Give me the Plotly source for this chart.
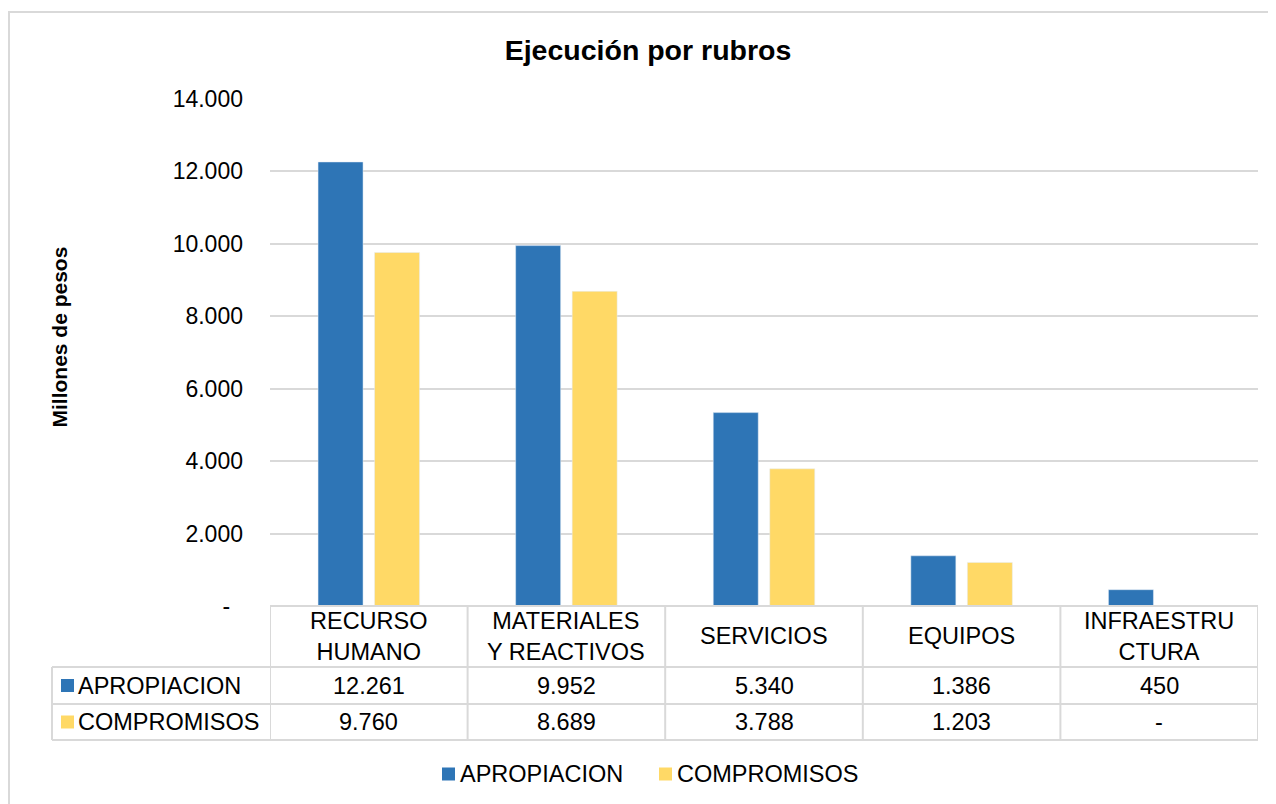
import plotly.graph_objects as go

# datos del grafico
rubros = ["RECURSO<br>HUMANO", "MATERIALES<br>Y REACTIVOS", "SERVICIOS", "EQUIPOS", "INFRAESTRU<br>CTURA"]
series = ["APROPIACION", "COMPROMISOS"]
apropiacion = [12261, 9952, 5340, 1386, 450]
compromisos = [9760, 8689, 3788, 1203, 0]
y_ticks = [0, 2000, 4000, 6000, 8000, 10000, 12000, 14000]

AZUL = "#2E75B6"
AMARILLO = "#FFD966"
GRIS = "#D9D9D9"
FONT = "Liberation Sans, Arial, sans-serif"
FS = 23.5

# la pagina deja 8px de margen en el body: se compensa aqui
OFF = 8
W, H = 1276 - OFF, 804 - OFF
L, R, T, B = 270, 1258, 99, 606  # area del grafico en pixeles de pagina


def px_x(px):
    return (px - L) / (R - L)


def px_y(py):
    return (B - py) / (B - T)


def fmt(v):
    """formato con punto como separador de miles, cero como guion"""
    if v == 0:
        return "-"
    return f"{v:,}".replace(",", ".")


x_idx = list(range(len(rubros)))

fig = go.Figure()
fig.add_trace(go.Bar(x=x_idx, y=apropiacion, name=series[0], marker_color=AZUL))
fig.add_trace(go.Bar(x=x_idx, y=compromisos, name=series[1], marker_color=AMARILLO))

shapes = []
annotations = []
texto = dict(size=FS, color="black")

# borde exterior
shapes.append(dict(type="rect", xref="paper", yref="paper",
                   x0=px_x(9), x1=px_x(1290), y0=px_y(12), y1=px_y(820),
                   line=dict(color=GRIS, width=2), layer="below"))

# tabla de datos
row_tops = [606, 667, 704, 740]
for i, yy in enumerate(row_tops):
    x0 = px_x(L) if i == 0 else px_x(52)
    shapes.append(dict(type="line", xref="paper", yref="paper",
                       x0=x0, x1=1, y0=px_y(yy), y1=px_y(yy),
                       line=dict(color=GRIS, width=2)))
for k in range(len(rubros) + 1):
    shapes.append(dict(type="line", xref="x", yref="paper",
                       x0=k - 0.5, x1=k - 0.5, y0=px_y(606), y1=px_y(740),
                       line=dict(color=GRIS, width=2)))
shapes.append(dict(type="line", xref="paper", yref="paper",
                   x0=px_x(52), x1=px_x(52), y0=px_y(667), y1=px_y(740),
                   line=dict(color=GRIS, width=2)))

# encabezados de categoria
for i, r in enumerate(rubros):
    annotations.append(dict(x=i, y=px_y(636), xref="x", yref="paper", text=r,
                            xanchor="center", yanchor="middle", showarrow=False,
                            font=texto))

# filas de la tabla
rows = [(series[0], apropiacion, AZUL, 685.5), (series[1], compromisos, AMARILLO, 722)]
for name, vals, color, yc in rows:
    shapes.append(dict(type="rect", xref="paper", yref="paper",
                       x0=px_x(61), x1=px_x(74), y0=px_y(yc - 6.5), y1=px_y(yc + 6.5),
                       fillcolor=color, line=dict(width=0)))
    annotations.append(dict(x=px_x(76), y=px_y(yc), xref="paper", yref="paper",
                            text=name, xanchor="left", yanchor="middle", showarrow=False,
                            font=texto))
    for i, v in enumerate(vals):
        annotations.append(dict(x=i, y=px_y(yc), xref="x", yref="paper",
                                text=fmt(v), xanchor="center", yanchor="middle",
                                showarrow=False, font=texto))

# leyenda inferior
for (name, color), sq in zip([(series[0], AZUL), (series[1], AMARILLO)], [442, 659]):
    shapes.append(dict(type="rect", xref="paper", yref="paper",
                       x0=px_x(sq), x1=px_x(sq + 13), y0=px_y(767.5), y1=px_y(780.5),
                       fillcolor=color, line=dict(width=0)))
    annotations.append(dict(x=px_x(sq + 16), y=px_y(774), xref="paper", yref="paper",
                            text=name, xanchor="left", yanchor="middle", showarrow=False,
                            font=texto))

# titulo del eje y
annotations.append(dict(x=px_x(59), y=px_y(337.5), xref="paper", yref="paper",
                        text="<b>Millones de pesos</b>", textangle=-90, showarrow=False,
                        xanchor="center", yanchor="middle",
                        font=dict(size=21, color="black")))

fig.update_layout(
    width=W, height=H,
    margin=dict(l=L - OFF, r=1276 - R, t=T - OFF, b=804 - B, autoexpand=False),
    paper_bgcolor="white", plot_bgcolor="white",
    font=dict(family=FONT, size=FS, color="black"),
    title=dict(text="<b>Ejecución por rubros</b>", x=(648 - OFF) / W, xanchor="center",
               y=1 - (50 - OFF) / H, yanchor="middle", font=dict(size=28.5, color="black")),
    barmode="group", bargap=0.428, bargroupgap=0.204,
    showlegend=False,
    shapes=shapes,
    annotations=annotations,
)

fig.update_xaxes(range=[-0.5, len(rubros) - 0.5], showticklabels=False, showgrid=False,
                 zeroline=False, showline=False, fixedrange=True)
fig.update_yaxes(range=[0, 14000], tickvals=y_ticks,
                 ticktext=[fmt(v) + ("\u00a0\u00a0" if v == 0 else "") for v in y_ticks],
                 showgrid=True, gridcolor=GRIS, gridwidth=2, zeroline=False, showline=False,
                 ticklabelstandoff=26, tickfont=dict(size=23, color="black"), fixedrange=True)

fig.write_html("out.html")
